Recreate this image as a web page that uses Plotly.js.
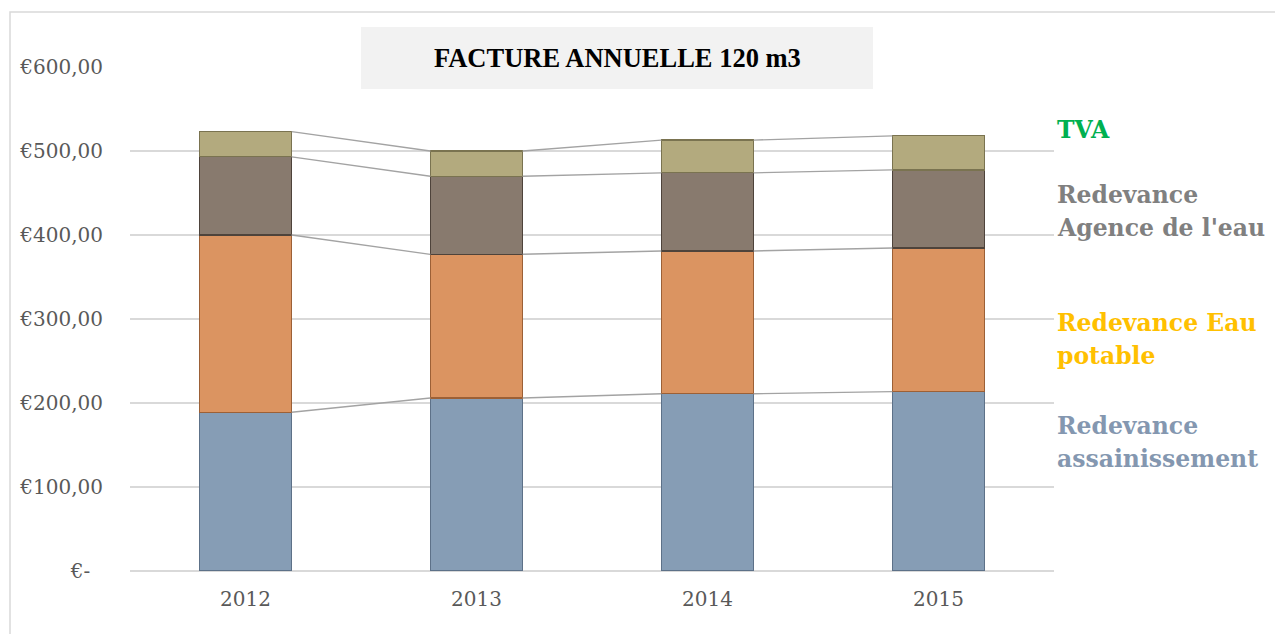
<!DOCTYPE html>
<html>
<head>
<meta charset="utf-8">
<script src="https://cdn.plot.ly/plotly-3.0.1.min.js"></script>
<style>html,body{margin:0;padding:0;background:#fff;}#chart{width:1275px;height:634px;}</style>
</head>
<body>
<div id="chart"></div>
<script>
const years = ["2012", "2013", "2014", "2015"];
const assainissement = [189, 206, 211, 213.5];
const eauPotable = [211, 171, 170, 171];
const agenceEau = [93, 93, 93, 93];
const tva = [30, 30, 39, 40.5];
const yTickVals = [0, 100, 200, 300, 400, 500, 600];
const yTickText = ["€-\u00a0\u00a0", "€100,00", "€200,00", "€300,00", "€400,00", "€500,00", "€600,00"];
const seriesNames = ["Redevance assainissement", "Redevance Eau potable", "Redevance Agence de l'eau", "TVA"];

const xs = years.map((_, i) => i);
const series = [assainissement, eauPotable, agenceEau, tva];
const fills = ["#869db5", "#db9461", "#887a6e", "#b3aa7e"];
const edges = ["#5d7188", "#9c6036", "#4e433b", "#7a7350"];
const barW = 0.4;

const traces = series.map((vals, k) => ({
  type: "bar", x: xs, y: vals, width: barW, name: seriesNames[k],
  marker: {color: fills[k], line: {color: edges[k], width: 1.2}},
  hoverinfo: "y"
}));

// series lines joining the stacked tops of consecutive bars
const cum = [];
series.forEach((vals, k) => {
  cum.push(vals.map((v, i) => v + (k > 0 ? cum[k - 1][i] : 0)));
});
cum.forEach(level => {
  const lx = [], ly = [];
  for (let i = 0; i < xs.length - 1; i++) {
    lx.push(xs[i] + barW / 2, xs[i + 1] - barW / 2, null);
    ly.push(level[i], level[i + 1], null);
  }
  traces.push({type: "scatter", mode: "lines", x: lx, y: ly, showlegend: false,
    hoverinfo: "skip", line: {color: "#a3a3a3", width: 1.4}});
});

const L = 130, T = 67, PW = 924, PH = 504;
const px = v => (v - L) / PW;
const py = v => (T + PH - v) / PH;

const legendLines = [
  {t: "TVA", y: 130, c: "#00b050"},
  {t: "Redevance", y: 195, c: "#808080"},
  {t: "Agence de l'eau", y: 228, c: "#808080"},
  {t: "Redevance Eau", y: 323, c: "#ffc000"},
  {t: "potable", y: 356, c: "#ffc000"},
  {t: "Redevance", y: 426, c: "#8497b0"},
  {t: "assainissement", y: 459, c: "#8497b0"}
];

const annotations = legendLines.map(o => ({
  text: o.t, xref: "paper", yref: "paper", x: px(1055), y: py(o.y),
  xanchor: "left", yanchor: "middle", showarrow: false,
  font: {family: "DejaVu Serif", size: 23.5, color: o.c, weight: "bold"}
}));
annotations.push({
  text: "<b>FACTURE ANNUELLE 120 m3</b>", xref: "paper", yref: "paper",
  x: px(617), y: py(58), xanchor: "center", yanchor: "middle", showarrow: false,
  font: {family: "Liberation Serif", size: 26.5, color: "#000000"}
});

const layout = {
  width: 1275, height: 634,
  margin: {l: L, r: 1275 - L - PW, t: T, b: 634 - T - PH, pad: 0},
  paper_bgcolor: "#ffffff", plot_bgcolor: "#ffffff",
  barmode: "stack", showlegend: false,
  xaxis: {range: [-0.5, 3.5], tickvals: xs, ticktext: years, showgrid: false,
    zeroline: false, showline: false, ticks: "", ticklabelstandoff: 14,
    tickfont: {family: "DejaVu Serif", size: 20, color: "#595959"}},
  yaxis: {range: [0, 600], tickvals: yTickVals, ticktext: yTickText,
    showgrid: true, gridcolor: "#d9d9d9", gridwidth: 1.5, zeroline: true,
    zerolinecolor: "#d9d9d9", zerolinewidth: 2, showline: false, ticks: "",
    ticklabelstandoff: 26,
    tickfont: {family: "DejaVu Serif", size: 20, color: "#595959"}},
  shapes: [
    {type: "rect", xref: "paper", yref: "paper", x0: px(361), x1: px(873),
     y0: py(89), y1: py(27), fillcolor: "#f2f2f2", line: {width: 0}, layer: "below"},
    {type: "rect", xref: "paper", yref: "paper", x0: px(10), x1: px(1290),
     y0: py(650), y1: py(12), fillcolor: "rgba(0,0,0,0)", line: {color: "#d9d9d9", width: 1.5}, layer: "below"}
  ],
  annotations: annotations
};

Plotly.newPlot("chart", traces, layout, {displayModeBar: false, staticPlot: true});
</script>
</body>
</html>
